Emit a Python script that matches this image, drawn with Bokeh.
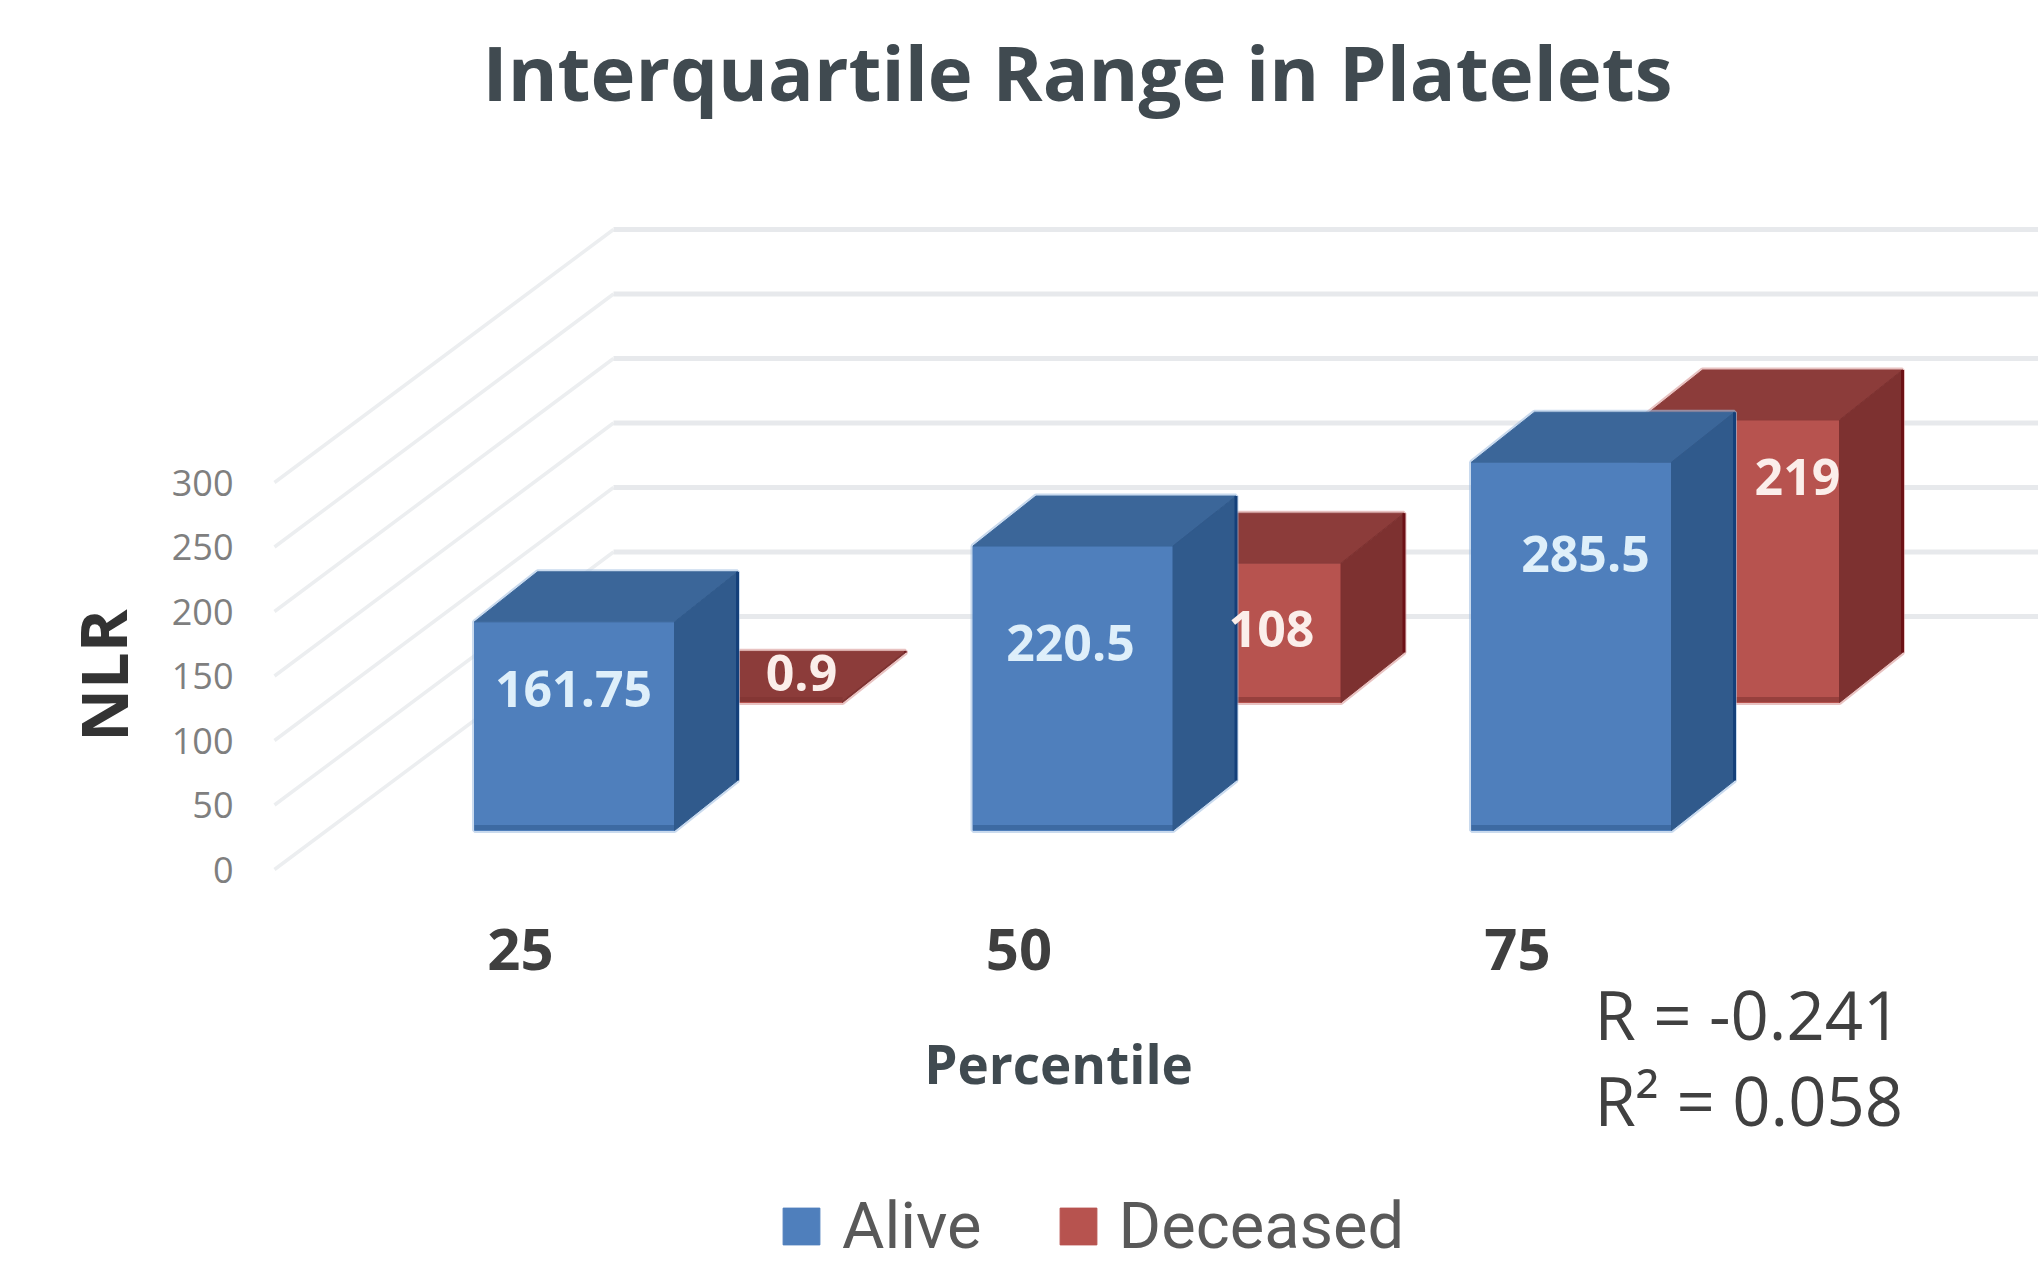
from bokeh.core.properties import value
from bokeh.embed import file_html
from bokeh.models import FixedTicker, Legend, LegendItem, Range1d
from bokeh.plotting import figure
from bokeh.resources import INLINE

# Chart content
TITLE = "Interquartile Range in Platelets"
PERCENTILES = [25, 50, 75]
ALIVE = [161.75, 220.5, 285.5]
DECEASED = [0.9, 108, 219]
ALIVE_TEXT = ["161.75", "220.5", "285.5"]
DECEASED_TEXT = ["0.9", "108", "219"]
NLR_TICKS = [0, 50, 100, 150, 200, 250, 300]
STATS = ["R = -0.241", "R\u00b2 = 0.058"]

WIDTH, HEIGHT = 2038, 1264

# Scale: 19.94 px per percentile unit, 1.29 px per NLR unit
X_PER_PX = 1 / 19.94
Y_PER_PX = 1 / 1.29
X0_PX = 520 - 25 / X_PER_PX
Y0_PX = 869


def dx(px):
    return px * X_PER_PX


def dy(px):
    return px * Y_PER_PX


def xp(px):
    return (px - X0_PX) * X_PER_PX


def yp(px):
    return (Y0_PX - px) * Y_PER_PX


p = figure(
    width=WIDTH, height=HEIGHT, output_backend="svg", toolbar_location=None,
    x_range=Range1d(xp(0), xp(WIDTH)), y_range=Range1d(yp(HEIGHT), yp(0)),
    min_border=0, outline_line_color=None, background_fill_color="white",
    border_fill_color="white",
)
p.grid.visible = False

# Floor and back wall grid
front_x, back_x, end_x = xp(274), xp(613), xp(WIDTH)
wall_rise = dy(253)
p.multi_line(
    xs=[[front_x, back_x] for _ in NLR_TICKS],
    ys=[[t, t + wall_rise] for t in NLR_TICKS],
    line_color="#eceef0", line_width=3.5,
)
p.multi_line(
    xs=[[back_x, end_x] for _ in NLR_TICKS],
    ys=[[t + wall_rise, t + wall_rise] for t in NLR_TICKS],
    line_color="#e7e9ec", line_width=5,
)

# Box geometry
BOX_W = dx(200)
DEPTH_X, DEPTH_Y = dx(63), dy(50)


def faces(lefts, lift, heights):
    front_x_, front_y, top_x, top_y, side_x, side_y, outline_x, outline_y = [], [], [], [], [], [], [], []
    for x0, h in zip(lefts, heights):
        x1 = x0 + BOX_W
        b, t = lift, lift + h
        front_x_.append([x0, x1, x1, x0])
        front_y.append([b, b, t, t])
        top_x.append([x0, x1, x1 + DEPTH_X, x0 + DEPTH_X])
        top_y.append([t, t, t + DEPTH_Y, t + DEPTH_Y])
        side_x.append([x1, x1 + DEPTH_X, x1 + DEPTH_X, x1])
        side_y.append([b, b + DEPTH_Y, t + DEPTH_Y, t])
        outline_x.append([x0, x1, x1 + DEPTH_X, x1 + DEPTH_X, x0 + DEPTH_X, x0])
        outline_y.append([b, b, b + DEPTH_Y, t + DEPTH_Y, t + DEPTH_Y, t])
    return front_x_, front_y, top_x, top_y, side_x, side_y, outline_x, outline_y


def draw_series(lefts, lift, heights, front, top, side, edge, halo):
    fx, fy, tx, ty, sx, sy, ox, oy = faces(lefts, lift, heights)
    p.patches(ox, oy, fill_color=None, line_color=halo, line_width=5, line_alpha=0.6)
    # a thin same-colour stroke closes the seams between neighbouring faces
    r = p.patches(fx, fy, fill_color=front, line_color=front, line_width=1)
    p.patches(tx, ty, fill_color=top, line_color=top, line_width=1)
    p.patches(sx, sy, fill_color=side, line_color=side, line_width=1)
    # dark rear corner of the box and a darker strip along its foot
    p.multi_line(
        [[x[1], x[1]] for x in sx], [[y[1], y[2]] for y in sy],
        line_color=edge, line_width=3,
    )
    p.multi_line(
        [[x[0], x[1]] for x in fx], [[y[0] + dy(3), y[0] + dy(3)] for y in fy],
        line_color=side, line_width=5, line_alpha=0.55,
    )
    return r


alive_lefts = [c + dx(-46) for c in PERCENTILES]
deceased_lefts = [c + dx(122) for c in PERCENTILES]
ALIVE_LIFT = dy(Y0_PX - 830)
DECEASED_LIFT = dy(Y0_PX - 702)

r_deceased = draw_series(deceased_lefts, DECEASED_LIFT, DECEASED,
                         "#b7534f", "#8c3c3a", "#7d3130", "#6d1116", "#d99a98")
r_alive = draw_series(alive_lefts, ALIVE_LIFT, ALIVE,
                      "#4f7fbc", "#3b6699", "#305a8c", "#14407a", "#a5c2e2")

# Value labels: how far each one sits below the top of its bar's front face
ALIVE_LABEL_DROP = [67, 97, 92]
DECEASED_LABEL_DROP = [-28, 66, 57]
ALIVE_LABEL_X = [573, 1070, 1585]
DECEASED_LABEL_X = [801, 1271, 1797]


def data_labels(xs_px, heights, lift, drops, texts, color):
    p.text(
        x=[xp(v) for v in xs_px],
        y=[lift + h - dy(d) for h, d in zip(heights, drops)],
        text=texts, text_font=value("Open Sans"), text_font_style="bold",
        text_font_size="50px", text_color=color,
        text_align="center", text_baseline="middle",
    )


data_labels(ALIVE_LABEL_X, ALIVE, ALIVE_LIFT, ALIVE_LABEL_DROP, ALIVE_TEXT, "#deeffa")
data_labels(DECEASED_LABEL_X, DECEASED, DECEASED_LIFT, DECEASED_LABEL_DROP, DECEASED_TEXT, "#fbeeea")

# Axes sit inside the frame at fixed positions
yax = p.yaxis[0]
yax.fixed_location = xp(241)
yax.ticker = FixedTicker(ticks=NLR_TICKS)
yax.axis_line_color = None
yax.major_tick_line_color = None
yax.minor_tick_line_color = None
yax.major_label_text_font = "Open Sans"
yax.major_label_text_font_size = "36px"
yax.major_label_text_color = "#7f7f7f"
yax.major_label_standoff = 2

xax = p.xaxis[0]
xax.fixed_location = yp(920)
xax.ticker = FixedTicker(ticks=PERCENTILES)
xax.axis_line_color = None
xax.major_tick_line_color = None
xax.minor_tick_line_color = None
xax.major_label_text_font = "Open Sans"
xax.major_label_text_font_style = "bold"
xax.major_label_text_font_size = "58px"
xax.major_label_text_color = "#3f3f3f"
xax.major_label_standoff = 2


def caption(px, py, text, size, color, style="normal", align="center", angle=0.0):
    p.text(
        x=[xp(px)], y=[yp(py)], text=[text], text_font=value("Open Sans"),
        text_font_style=style, text_font_size=size, text_color=color,
        text_align=align, text_baseline="middle", angle=angle,
    )


caption(1077, 71, TITLE, "76px", "#404a50", style="bold")
caption(1058, 1063, "Percentile", "53px", "#404a50", style="bold")
caption(102, 675, "NLR", "65px", "#333333", style="bold", angle=1.5708)
caption(1594, 1013, STATS[0], "67px", "#404040", align="left")
caption(1594, 1099, STATS[1], "67px", "#404040", align="left")

legend = Legend(
    items=[LegendItem(label="Alive", renderers=[r_alive]),
           LegendItem(label="Deceased", renderers=[r_deceased])],
    orientation="horizontal", location=(778, 0), border_line_color=None,
    background_fill_alpha=0, label_text_font="Roboto",
    label_text_font_size="65px", label_text_color="#595959",
    glyph_width=46, glyph_height=46, label_standoff=18, spacing=73,
    padding=0, margin=0, label_height=60,
)
p.add_layout(legend, "center")

open("out.html", "w").write(file_html(p, INLINE))
